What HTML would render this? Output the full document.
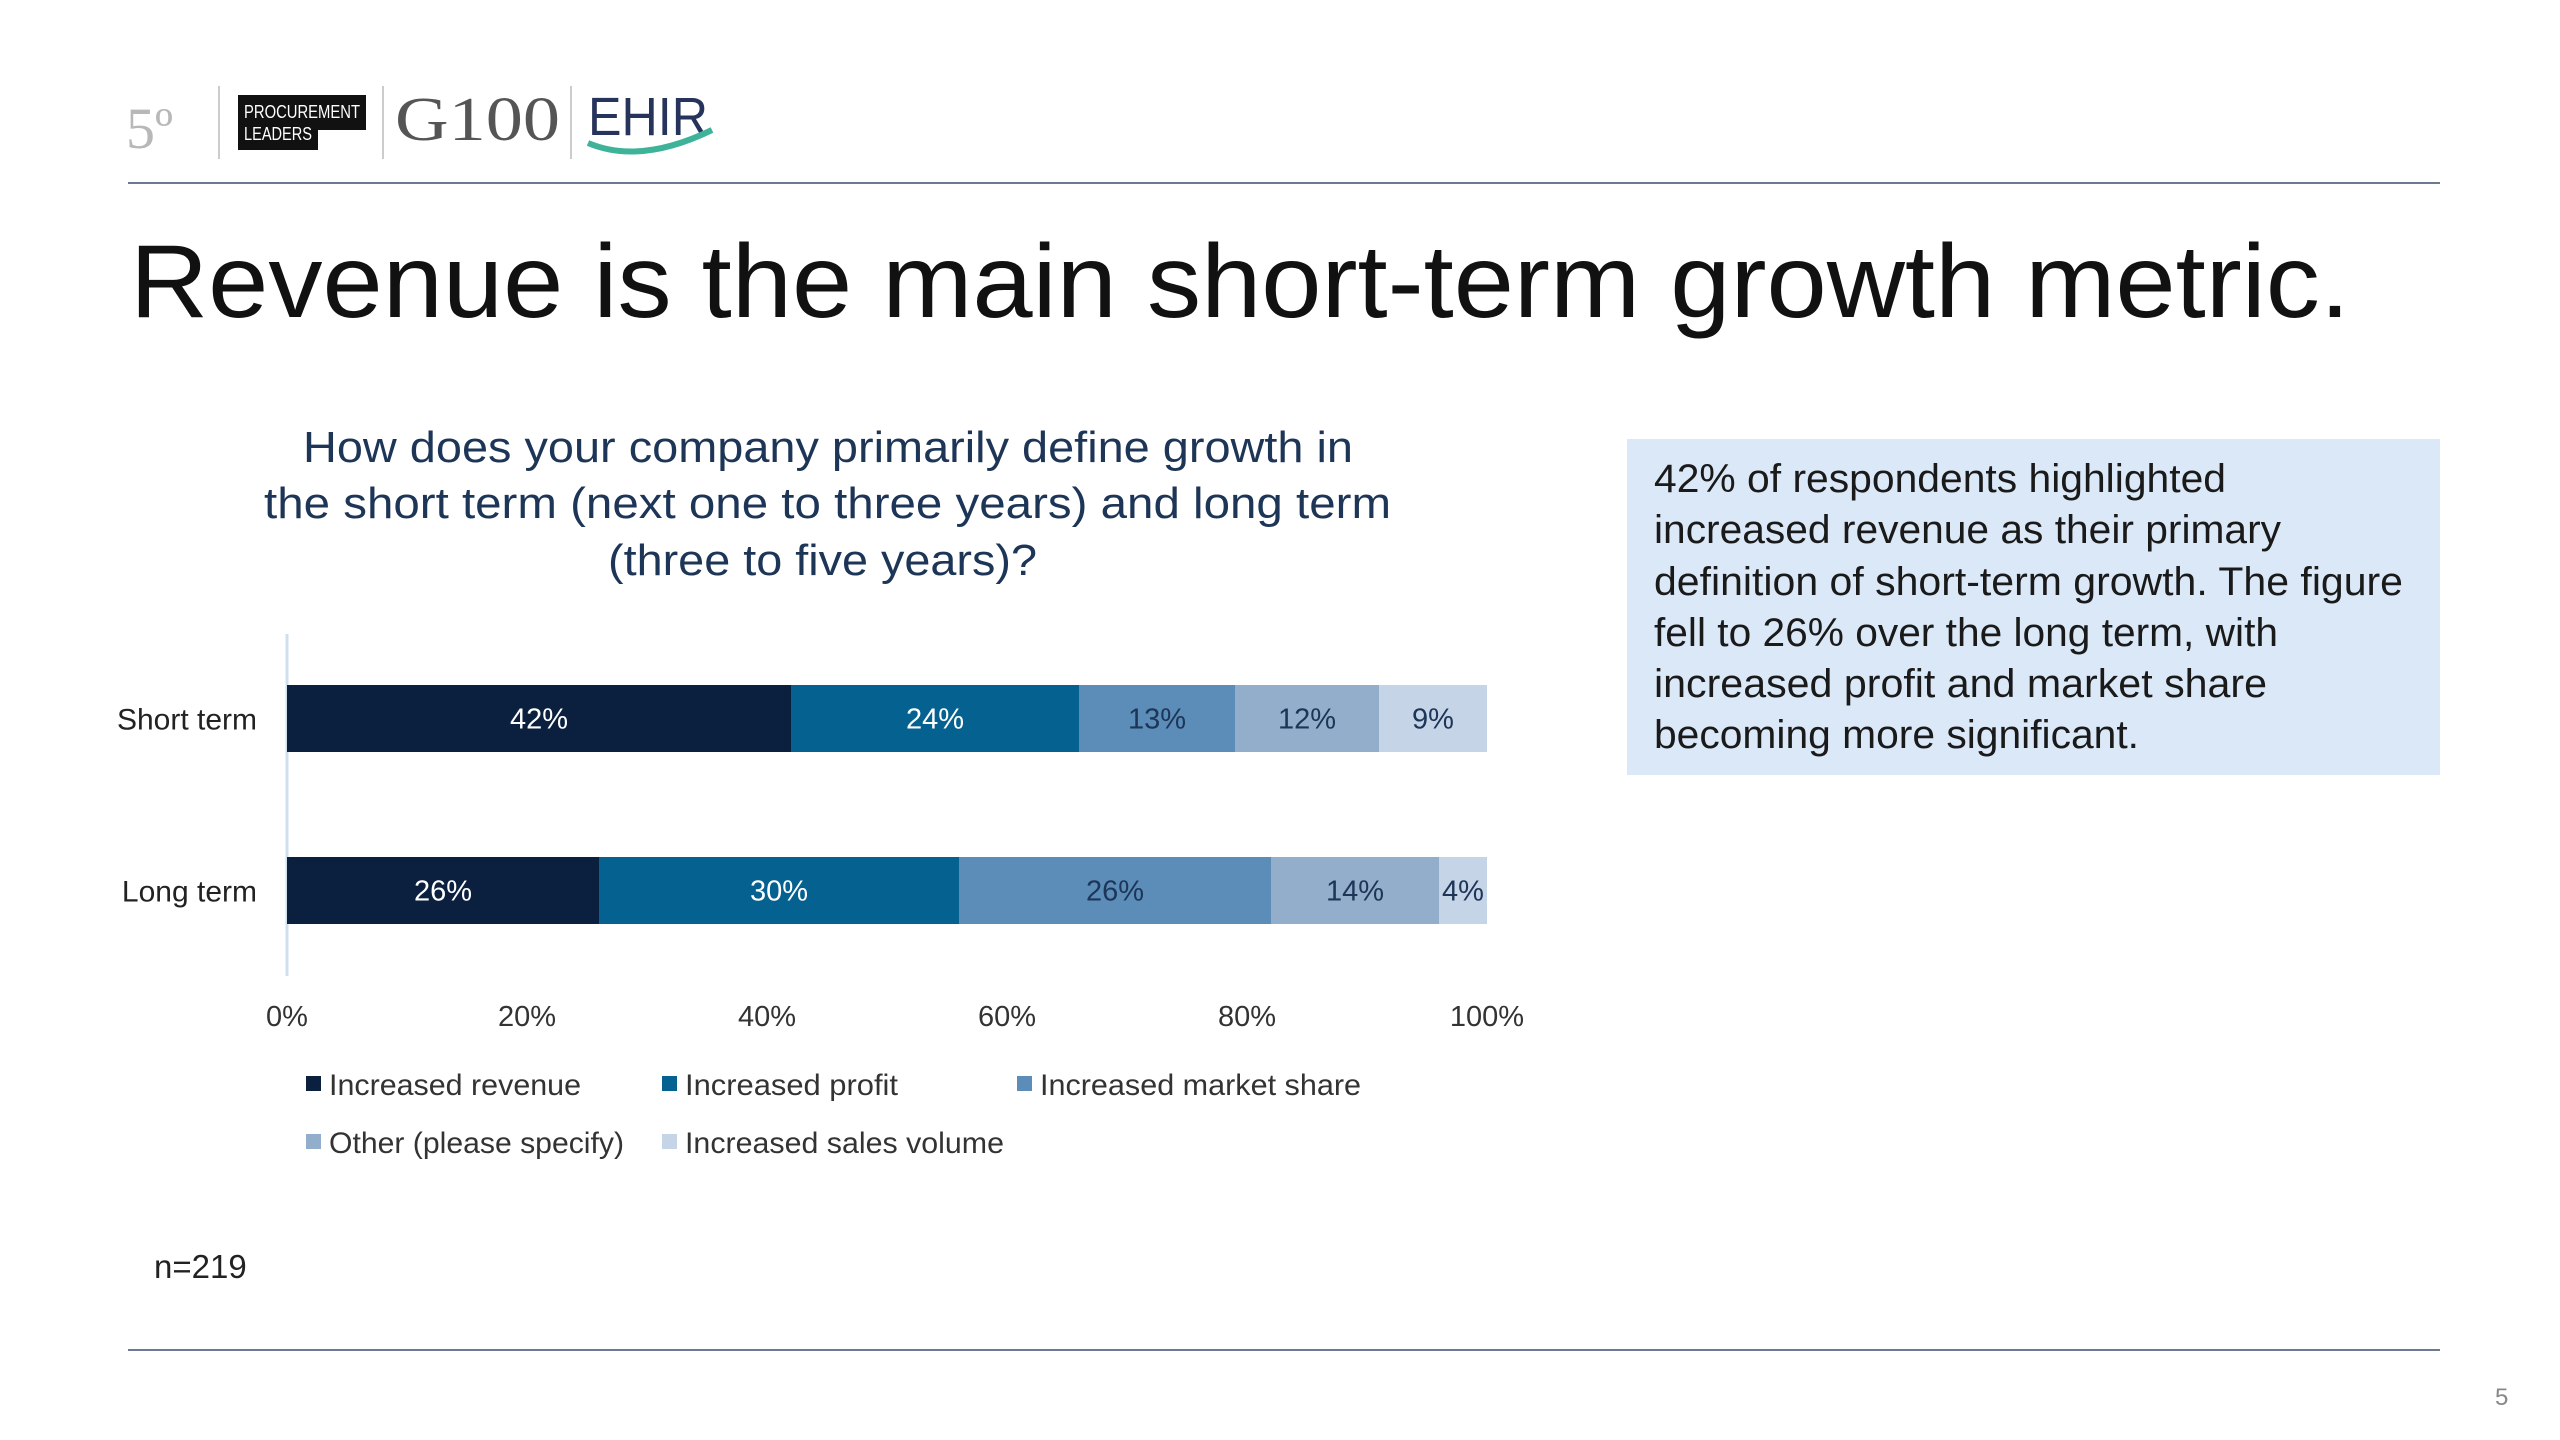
<!DOCTYPE html>
<html><head><meta charset="utf-8"><style>
html,body{margin:0;padding:0;background:#fff;}
svg{display:block;font-family:"Liberation Sans",Arial,sans-serif;}
</style></head><body>
<svg width="2560" height="1440" viewBox="0 0 2560 1440" xmlns="http://www.w3.org/2000/svg">
<g>
  <text x="126" y="148" font-family="Liberation Serif" font-size="58" fill="#b8b8b8">5º</text>
  <rect x="218" y="86" width="2" height="73" fill="#ccc"/>
  <rect x="238" y="95" width="128" height="35" fill="#111"/>
  <rect x="238" y="125" width="80" height="25" fill="#111"/>
  <text x="244" y="118" font-size="18" fill="#fff" textLength="116" lengthAdjust="spacingAndGlyphs">PROCUREMENT</text>
  <text x="244" y="140" font-size="18" fill="#fff" textLength="68" lengthAdjust="spacingAndGlyphs">LEADERS</text>
  <rect x="382" y="86" width="2" height="73" fill="#ccc"/>
  <text x="395" y="140" font-family="Liberation Serif" font-size="62" fill="#555" textLength="165" lengthAdjust="spacingAndGlyphs">G100</text>
  <rect x="570" y="86" width="2" height="73" fill="#ccc"/>
  <text x="588" y="135" font-size="54" fill="#26335a" textLength="120" lengthAdjust="spacingAndGlyphs">EHIR</text>
  <path d="M588 143 Q640 165 712 130" stroke="#3fb39a" stroke-width="6" fill="none"/>
</g>
<rect x="128" y="182" width="2312" height="2" fill="#6b7a90"/>
<text x="130" y="317" font-size="104" fill="#111" textLength="2220" lengthAdjust="spacingAndGlyphs">Revenue is the main short-term growth metric.</text>

<g font-size="44" fill="#1d3557">
  <text x="303" y="462" textLength="1050" lengthAdjust="spacingAndGlyphs">How does your company primarily define growth in</text>
  <text x="264" y="518" textLength="1127" lengthAdjust="spacingAndGlyphs">the short term (next one to three years) and long term</text>
  <text x="608" y="575" textLength="429" lengthAdjust="spacingAndGlyphs">(three to five years)?</text>
</g>

<g>
  <rect x="1627" y="439" width="813" height="336" fill="#dbe8f7"/>
  <g font-size="40" fill="#1a1a1a">
    <text x="1654" y="492" textLength="572" lengthAdjust="spacingAndGlyphs">42% of respondents highlighted</text>
    <text x="1654" y="543" textLength="627" lengthAdjust="spacingAndGlyphs">increased revenue as their primary</text>
    <text x="1654" y="595" textLength="749" lengthAdjust="spacingAndGlyphs">definition of short-term growth. The figure</text>
    <text x="1654" y="646" textLength="624" lengthAdjust="spacingAndGlyphs">fell to 26% over the long term, with</text>
    <text x="1654" y="697" textLength="613" lengthAdjust="spacingAndGlyphs">increased profit and market share</text>
    <text x="1654" y="748" textLength="485" lengthAdjust="spacingAndGlyphs">becoming more significant.</text>
  </g>
</g>

<g id="chart"></g>

<text x="154" y="1278" font-size="33" fill="#222">n=219</text>
<rect x="128" y="1349" width="2312" height="2" fill="#6b7a90"/>
<text x="2495" y="1405" font-size="24" fill="#888">5</text>
</svg>
<script>
const categories = ["Short term", "Long term"];
const seriesNames = ["Increased revenue", "Increased profit", "Increased market share", "Other (please specify)", "Increased sales volume"];
const revenue = [42, 26];
const profit = [24, 30];
const marketShare = [13, 26];
const other = [12, 14];
const salesVolume = [9, 4];
const ticks = [0, 20, 40, 60, 80, 100];
const tickLabels = ["0%", "20%", "40%", "60%", "80%", "100%"];

const NS = "http://www.w3.org/2000/svg";
const g = document.getElementById("chart");
const colors = ["#0b1f3f", "#05618f", "#5b8db8", "#92aecb", "#c6d4e7"];
const textColors = ["#fff", "#fff", "#1d3557", "#1d3557", "#1d3557"];
const x0 = 287, x1 = 1487;
const xScale = v => x0 + (x1 - x0) * v / 100;
const rowTop = [685, 857], barH = 67;
const yScale = i => rowTop[i];
const series = [revenue, profit, marketShare, other, salesVolume];

function mk(tag, attrs, text) {
  const e = document.createElementNS(NS, tag);
  for (const k in attrs) e.setAttribute(k, attrs[k]);
  if (text !== undefined) e.textContent = text;
  g.appendChild(e);
  return e;
}

const axis = mk("line", {x1: x0, x2: x0, y1: 634, y2: 976, stroke: "#cfdff0", "stroke-width": 3});



categories.forEach((c, i) => {
  const t = mk("text", {x: 257, y: yScale(i) + barH / 2 + 11, "text-anchor": "end", "font-size": 30, fill: "#222"}, c);
  
  
  let acc = 0;
  series.forEach((s, j) => {
    const v = s[i];
    const r = mk("rect", {x: xScale(acc), y: yScale(i), width: xScale(acc + v) - xScale(acc), height: barH, fill: colors[j]});
    
    
    const lbl = mk("text", {x: (xScale(acc) + xScale(acc + v)) / 2, y: yScale(i) + barH / 2 + 10, "text-anchor": "middle", "font-size": 29, fill: textColors[j]}, v + "%");
    
    
    acc += v;
  });
});

ticks.forEach((tk, i) => {
  const t = mk("text", {x: xScale(tk), y: 1026, "text-anchor": "middle", "font-size": 29, fill: "#333"}, tickLabels[i]);
  
  
});

const legendPos = [[306, 1084], [662, 1084], [1017, 1084], [306, 1142], [662, 1142]];
const legendW = [252, 213, 321, 295, 319];
seriesNames.forEach((n, j) => {
  const [lx, ly] = legendPos[j];
  const sw = mk("rect", {x: lx, y: ly - 8, width: 15, height: 15, fill: colors[j]});
  
  
  const t = mk("text", {x: lx + 23, y: ly + 11, "font-size": 30, fill: "#333", textLength: legendW[j], lengthAdjust: "spacingAndGlyphs"}, n);
  
  
});
</script>
</body></html>
